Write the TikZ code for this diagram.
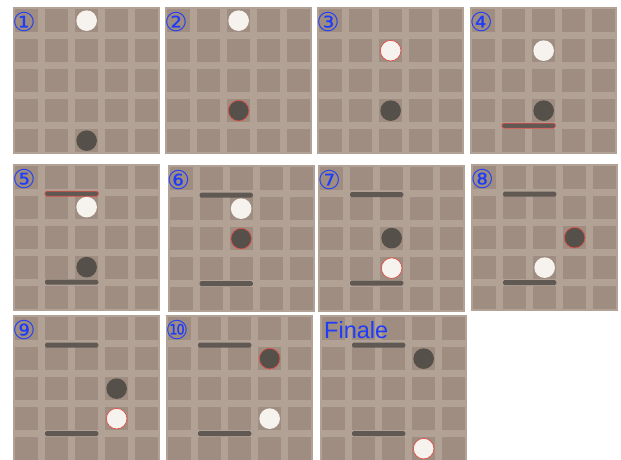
\documentclass[tikz,border=0pt]{standalone}
\usepackage{fontspec}
\newfontfamily\circledfont{DejaVu Sans}
\newfontfamily\finalefont{Liberation Sans}
\definecolor{boardlight}{RGB}{178,162,150}
\definecolor{cellbrown}{RGB}{158,141,128}
\definecolor{stonewhite}{RGB}{246,242,238}
\definecolor{stoneblack}{RGB}{86,80,74}
\definecolor{wallgray}{RGB}{96,89,83}
\definecolor{movered}{RGB}{222,80,72}
\definecolor{labelblue}{RGB}{30,60,250}
\usetikzlibrary{calc}

\begin{document}
\begin{tikzpicture}[x=1pt, y=-1pt,
  cellunits/.style={x=30pt, y=-30pt},
  whitestone/.style={fill=stonewhite},
  blackstone/.style={fill=stoneblack},
  moved/.style={draw=movered, line width=0.7pt},
  wall/.style={fill=wallgray, rounded corners=1.5pt},
  steplabel/.style={text=labelblue, inner sep=0pt, font=\circledfont\fontsize{26}{26}\selectfont}]

  \useasboundingbox (0,0) rectangle (621,459);
  \clip (0,0) rectangle (621,459);

  % Boards, 5x5 cells each, with step number
  \foreach \bx/\by/\lbl [count=\n] in {13/7/①, 165/7/②, 317/7/③, 470/7/④,
      13/163.5/⑤, 167.5/165/⑥, 318/164.5/⑦, 471/164/⑧,
      13/315/⑨, 166/315/⑩, 320/315/{}}{
    \coordinate (b\n) at (\bx+13.65,\by+13.65);
    \begin{scope}[shift={(b\n)}, cellunits]
      \fill[boardlight] (2,2) +(-73.5pt,-73.5pt) rectangle +(73.5pt,73.5pt);
      \foreach \i in {0,...,4}
        \foreach \j in {0,...,4}
          \fill[cellbrown] (\i,\j) +(-11.65pt,-11.65pt) rectangle +(11.65pt,11.65pt);
      \node[steplabel, xshift=-2.5pt, yshift=-1.5pt] (label\n) at (0,0) {\lbl};
    \end{scope}
  }

  % 1
  \begin{scope}[shift={(b1)}, cellunits]
    \fill[whitestone] (2,0) circle (10.3pt);
    \fill[blackstone] (2,4) circle (10.3pt);
  \end{scope}

  % 2
  \begin{scope}[shift={(b2)}, cellunits]
    \fill[whitestone] (2,0) circle (10.3pt);
    \filldraw[blackstone, moved] (2,3) circle (10.3pt);
  \end{scope}

  % 3
  \begin{scope}[shift={(b3)}, cellunits]
    \filldraw[whitestone, moved] (2,1) circle (10.3pt);
    \fill[blackstone] (2,3) circle (10.3pt);
  \end{scope}

  % 4
  \begin{scope}[shift={(b4)}, cellunits]
    \fill[whitestone] (2,1) circle (10.3pt);
    \fill[blackstone] (2,3) circle (10.3pt);
    \filldraw[wall, moved] ($(1,3.5)+(-11.65pt,2.5pt)$) rectangle ($(2,3.5)+(11.65pt,-2.5pt)$);
  \end{scope}

  % 5
  \begin{scope}[shift={(b5)}, cellunits]
    \filldraw[wall, moved] ($(1,0.55)+(-11.65pt,2.5pt)$) rectangle ($(2,0.55)+(11.65pt,-2.5pt)$);
    \fill[wall] ($(1,3.5)+(-11.65pt,2.5pt)$) rectangle ($(2,3.5)+(11.65pt,-2.5pt)$);
    \fill[whitestone] (2,1) circle (10.3pt);
    \fill[blackstone] (2,3) circle (10.3pt);
  \end{scope}

  % 6 to Finale: both walls stand
  \foreach \n in {6,...,11}{
    \begin{scope}[shift={(b\n)}, cellunits]
      \foreach \wy in {0.55,3.5}
        \fill[wall] ($(1,\wy)+(-11.65pt,2.5pt)$) rectangle ($(2,\wy)+(11.65pt,-2.5pt)$);
    \end{scope}
  }

  % 6
  \begin{scope}[shift={(b6)}, cellunits]
    \fill[whitestone] (2,1) circle (10.3pt);
    \filldraw[blackstone, moved] (2,2) circle (10.3pt);
  \end{scope}

  % 7
  \begin{scope}[shift={(b7)}, cellunits]
    \fill[blackstone] (2,2) circle (10.3pt);
    \filldraw[whitestone, moved] (2,3) circle (10.3pt);
  \end{scope}

  % 8
  \begin{scope}[shift={(b8)}, cellunits]
    \filldraw[blackstone, moved] (3,2) circle (10.3pt);
    \fill[whitestone] (2,3) circle (10.3pt);
  \end{scope}

  % 9
  \begin{scope}[shift={(b9)}, cellunits]
    \fill[blackstone] (3,2) circle (10.3pt);
    \filldraw[whitestone, moved] (3,3) circle (10.3pt);
  \end{scope}

  % 10
  \begin{scope}[shift={(b10)}, cellunits]
    \filldraw[blackstone, moved] (3,1) circle (10.3pt);
    \fill[whitestone] (3,3) circle (10.3pt);
  \end{scope}

  % Finale
  \begin{scope}[shift={(b11)}, cellunits]
    \fill[blackstone] (3,1) circle (10.3pt);
    \filldraw[whitestone, moved] (3,4) circle (10.3pt);
    \node[text=labelblue, inner sep=0pt, anchor=base west,
      font=\finalefont\fontsize{23.5}{23.5}\selectfont] (finale)
      at ($(0,0)+(-9.65pt,-9.65pt)$) {Finale};
  \end{scope}
\end{tikzpicture}
\end{document}
